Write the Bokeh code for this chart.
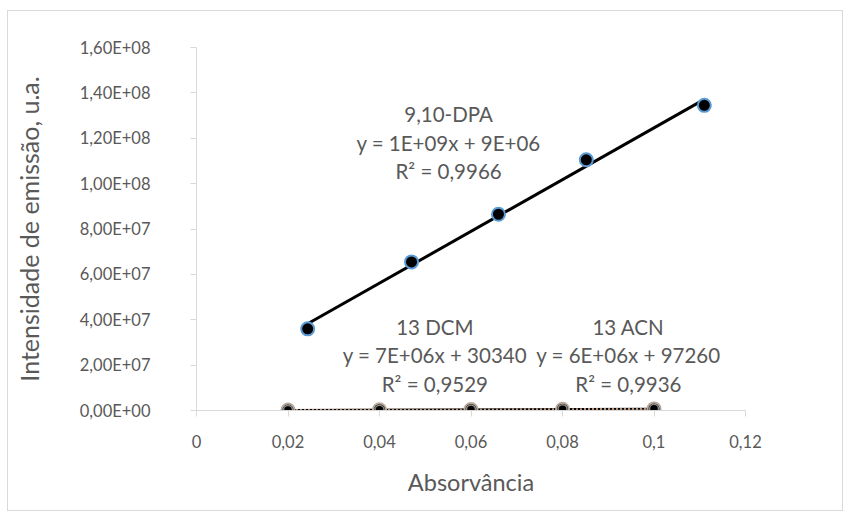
import numpy as np
from bokeh.plotting import figure
from bokeh.layouts import column
from bokeh.models import Label, CustomJSTickFormatter, FixedTicker, Range1d
from bokeh.embed import file_html
from bokeh.resources import INLINE

# data
x_dpa = [0.0243, 0.047, 0.066, 0.0852, 0.111]
y_dpa = [3.6e7, 6.55e7, 8.65e7, 1.105e8, 1.345e8]
x_13 = [0.02, 0.04, 0.06, 0.08, 0.1]
y_dcm = [1.9e5, 2.9e5, 4.6e5, 6.0e5, 7.3e5]
y_acn = [2.1e5, 3.4e5, 4.5e5, 5.8e5, 7.0e5]
x_ticks = [0, 0.02, 0.04, 0.06, 0.08, 0.1, 0.12]
y_ticks = [0, 2e7, 4e7, 6e7, 8e7, 1e8, 1.2e8, 1.4e8, 1.6e8]

FONT = "Lato"
GRAY = "#595959"

p = figure(width=834, height=499, frame_width=549, frame_height=363,
           min_border_left=188, min_border_right=97, min_border_top=36, min_border_bottom=100,
           output_backend="svg", toolbar_location=None,
           x_range=Range1d(0, 0.12), y_range=Range1d(0, 1.6e8))
p.background_fill_color = "white"
p.border_fill_color = "white"
p.outline_line_color = None
p.xgrid.visible = False
p.ygrid.visible = False

p.xaxis.ticker = FixedTicker(ticks=x_ticks)
p.yaxis.ticker = FixedTicker(ticks=y_ticks)
p.xaxis.formatter = CustomJSTickFormatter(code="return parseFloat(tick.toFixed(3)).toString().replace('.', ',');")
p.yaxis.formatter = CustomJSTickFormatter(code="""
const parts = tick.toExponential(2).split('e');
const sign = parts[1][0];
const d = parts[1].slice(1).padStart(2, '0');
return parts[0].replace('.', ',') + 'E' + sign + d;
""")
for ax in (p.xaxis, p.yaxis):
    ax.axis_line_color = "#d9d9d9"
    ax.major_tick_line_color = "#d9d9d9"
    ax.minor_tick_line_color = None
    ax.major_tick_out = 6
    ax.major_tick_in = 0
    ax.major_label_text_font = FONT
    ax.major_label_text_font_size = "16.5px"
    ax.major_label_text_color = GRAY
    ax.axis_label_text_font = FONT
    ax.axis_label_text_font_style = "normal"
    ax.axis_label_text_color = GRAY
p.xaxis.axis_label_text_font_size = "23.5px"
p.yaxis.axis_label_text_font_size = "25px"
p.xaxis.axis_label = "Absorvância"
p.yaxis.axis_label = "Intensidade de emissão, u.a."
p.xaxis.major_label_standoff = 18
p.yaxis.major_label_standoff = 40
p.xaxis.axis_label_standoff = 17
p.yaxis.axis_label_standoff = 33

# trendlines
def trend(xs, ys):
    k, b = np.polyfit(xs, ys, 1)
    xx = np.array([min(xs), max(xs)])
    return xx, k * xx + b

tx, ty = trend(x_dpa, y_dpa)
p.line(tx, ty, line_color="black", line_width=3)
tx, ty = trend(x_13, y_dcm)
p.line(tx, ty, line_color="black", line_width=2)
tx, ty = trend(x_13, y_acn)
p.line(tx, ty, line_color="#b4927a", line_width=2, line_dash="2 2")

p.scatter(x_13, y_acn, size=13, fill_color="black", line_color="#b8a89a", line_width=2)
p.scatter(x_13, y_dcm, size=9, fill_color="black", line_color="#8c8c8c", line_width=1.5)
p.scatter(x_dpa, y_dpa, size=13, fill_color="black", line_color="#5b9bd5", line_width=2)

def lab(x, y, t):
    p.add_layout(Label(x=x, y=y, text=t, text_align="center", text_baseline="middle",
                       text_font=FONT, text_font_size="20.5px", text_color=GRAY))

def ydat(px):
    return (410 - px) / 363 * 1.6e8

for t, yy in zip(["9,10-DPA", "y = 1E+09x + 9E+06", "R² = 0,9966"], [113, 142, 170]):
    lab(0.0551, ydat(yy), t)
for t, yy in zip(["13 DCM", "y = 7E+06x + 30340", "R² = 0,9529"], [326, 354, 383]):
    lab(0.0521, ydat(yy), t)
for t, yy in zip(["13 ACN", "y = 6E+06x + 97260", "R² = 0,9936"], [326, 354, 383]):
    lab(0.0944, ydat(yy), t)

lay = column(p, styles={"border": "1px solid #d9d9d9", "margin-left": "7px", "margin-top": "10px"})

open("out.html", "w").write(file_html(lay, INLINE))
